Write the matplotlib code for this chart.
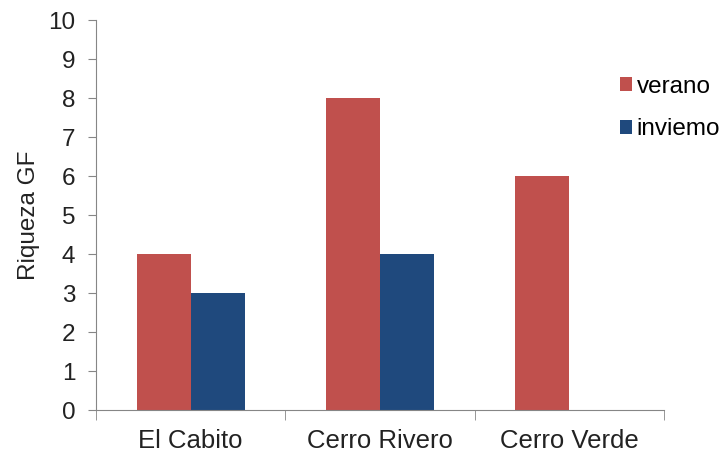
import numpy as np
import matplotlib.pyplot as plt

sites = ["El Cabito", "Cerro Rivero", "Cerro Verde"]
verano = [4, 8, 6]
invierno = [3, 4, 0]
series_names = ["verano", "inviemo"]

plt.rcParams["font.family"] = ["Liberation Sans", "DejaVu Sans"]

fig = plt.figure(figsize=(7.28, 4.54), dpi=100)
ax = fig.add_axes([0.1319, 0.0969, 0.7802, 0.859])

x = np.arange(len(sites))
w = 0.285
ax.bar(x - w / 2, verano, w, color="#C0504D", label=series_names[0])
ax.bar(x + w / 2, invierno, w, color="#1F497D", label=series_names[1])

ax.set_xlim(-0.5, len(sites) - 0.5)
ax.set_ylim(0, 10)
ax.set_yticks(range(0, 11))
ax.tick_params(axis="y", labelsize=17.5, length=6, pad=9, color="#868686",
               labelcolor="#222222")

# categories labelled at the centre, tick marks between groups
ax.set_xticks(x)
ax.set_xticklabels(sites, fontsize=18.5, color="#222222")
ax.tick_params(axis="x", length=0, pad=14)
ax.set_xticks(np.arange(-0.5, len(sites)), minor=True)
ax.tick_params(axis="x", which="minor", length=7, color="#868686")

ax.set_ylabel("Riqueza GF", fontsize=17.5, color="#222222", labelpad=6)

for side in ["top", "right"]:
    ax.spines[side].set_visible(False)
for side in ["left", "bottom"]:
    ax.spines[side].set_color("#868686")

fig.legend(loc="upper left", bbox_to_anchor=(0.838, 0.855), frameon=False,
           fontsize=17.5, handlelength=0.5, handleheight=0.5,
           handletextpad=0.2, labelspacing=0.85, borderaxespad=0)

plt.savefig("out.png", dpi=100)
